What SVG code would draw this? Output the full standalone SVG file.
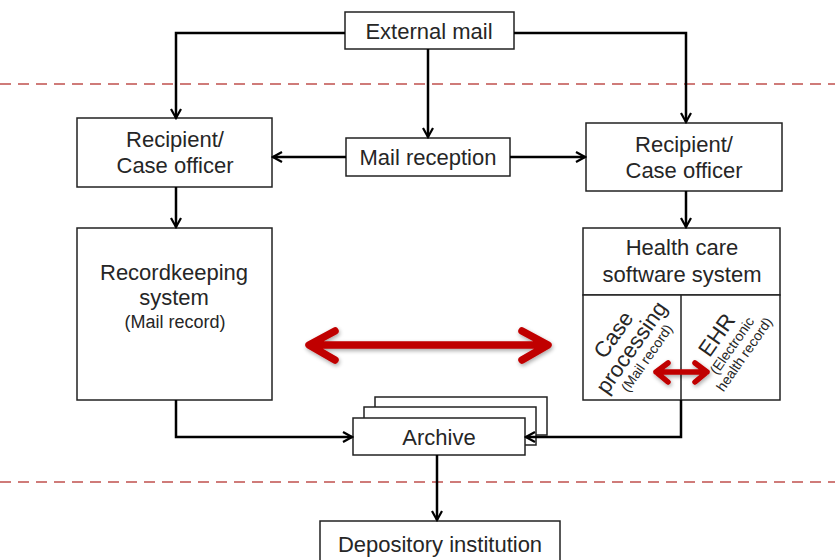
<svg xmlns="http://www.w3.org/2000/svg" width="835" height="560" viewBox="0 0 835 560">
  <style>
    .box { fill: #fff; stroke: #222; stroke-width: 1.5; }
    .lbl { font-family: "Liberation Sans", Arial, sans-serif; font-size: 22px; fill: #262626; text-anchor: middle; }
    .sm { font-size: 18px; }
    .xs { font-size: 14px; }
    .conn { fill: none; stroke: #000; stroke-width: 2.5; }
    .sep { stroke: #c0504d; stroke-width: 1.5; stroke-dasharray: 11 7; }
    .red { fill: none; stroke: #c00000; stroke-linecap: round; stroke-linejoin: round; }
  </style>
  <defs>
    <marker id="ah" viewBox="0 0 12 12" refX="10" refY="6" markerWidth="12" markerHeight="12" markerUnits="userSpaceOnUse" orient="auto">
      <path d="M1,1 L10,6 L1,11" fill="none" stroke="#000" stroke-width="2.2"/>
    </marker>
    <filter id="sh" x="-10%" y="-50%" width="120%" height="200%">
      <feGaussianBlur in="SourceAlpha" stdDeviation="2"/>
      <feOffset dx="1" dy="2"/>
      <feComponentTransfer><feFuncA type="linear" slope="0.35"/></feComponentTransfer>
      <feMerge><feMergeNode/><feMergeNode in="SourceGraphic"/></feMerge>
    </filter>
  </defs>
  <rect width="835" height="560" fill="#fff"/>

  <!-- zone separators -->
  <line class="sep" x1="0" y1="84" x2="835" y2="84"/>
  <line class="sep" x1="0" y1="482" x2="835" y2="482"/>

  <g id="external-mail">
    <rect class="box" x="345" y="12" width="169" height="37"/>
    <text class="lbl" x="429" y="39">External mail</text>
  </g>

  <g id="recipient-left">
    <rect class="box" x="77" y="118" width="195" height="69"/>
    <text class="lbl" x="175" y="147">Recipient/</text>
    <text class="lbl" x="175" y="173">Case officer</text>
  </g>

  <g id="mail-reception">
    <rect class="box" x="346" y="138" width="164" height="38"/>
    <text class="lbl" x="428" y="165">Mail reception</text>
  </g>

  <g id="recipient-right">
    <rect class="box" x="586" y="123" width="196" height="68"/>
    <text class="lbl" x="684" y="152">Recipient/</text>
    <text class="lbl" x="684" y="178">Case officer</text>
  </g>

  <g id="recordkeeping">
    <rect class="box" x="77" y="228" width="195" height="172"/>
    <text class="lbl" x="174" y="280">Recordkeeping</text>
    <text class="lbl" x="174" y="305">system</text>
    <text class="lbl sm" x="175" y="328">(Mail record)</text>
  </g>

  <g id="health-care">
    <rect class="box" x="583" y="228" width="197" height="67"/>
    <text class="lbl" x="682" y="255">Health care</text>
    <text class="lbl" x="682" y="282">software system</text>
    <rect class="box" x="583" y="295" width="197" height="105"/>
    <line x1="681" y1="295" x2="681" y2="400" stroke="#222" stroke-width="1.5"/>
  </g>

  <g id="case-processing" transform="translate(631,347) rotate(-55)">
    <text class="lbl" x="0" y="-14">Case</text>
    <text class="lbl" x="0" y="8">processing</text>
    <text class="lbl xs" x="0" y="24">(Mail record)</text>
  </g>

  <g id="ehr" transform="translate(731,345) rotate(-55)">
    <text class="lbl" x="0" y="-10">EHR</text>
    <text class="lbl xs" x="0" y="6">(Electronic</text>
    <text class="lbl xs" x="0" y="21">health record)</text>
  </g>

  <g id="archive">
    <rect class="box" x="375" y="397" width="172" height="38"/>
    <rect class="box" x="364" y="407" width="172" height="38"/>
    <rect class="box" x="353" y="418" width="172" height="37"/>
    <text class="lbl" x="439" y="445">Archive</text>
  </g>

  <g id="depository">
    <rect class="box" x="320" y="521" width="240" height="50"/>
    <text class="lbl" x="440" y="552">Depository institution</text>
  </g>

  <g id="connectors">
    <path class="conn" d="M345,33 H176 V118" marker-end="url(#ah)"/>
    <path class="conn" d="M514,33 H686 V122" marker-end="url(#ah)"/>
    <path class="conn" d="M428,49 V137" marker-end="url(#ah)"/>
    <path class="conn" d="M346,157 H273" marker-end="url(#ah)"/>
    <path class="conn" d="M510,157 H585" marker-end="url(#ah)"/>
    <path class="conn" d="M176,187 V227" marker-end="url(#ah)"/>
    <path class="conn" d="M686,191 V227" marker-end="url(#ah)"/>
    <path class="conn" d="M176,400 V437 H352" marker-end="url(#ah)"/>
    <path class="conn" d="M681,400 V437 H526" marker-end="url(#ah)"/>
    <path class="conn" d="M437,455 V520" marker-end="url(#ah)"/>
  </g>

  <!-- exchange arrows -->
  <g id="exchange" filter="url(#sh)">
    <path class="red" stroke-width="7.5" d="M310,345 H547 M335,331 L309,345 L335,360 M522,331 L548,345 L522,360"/>
    <path class="red" stroke-width="5.5" d="M656,372 H707 M668,363 L656,372 L668,382 M695,363 L707,372 L695,382"/>
  </g>
</svg>
